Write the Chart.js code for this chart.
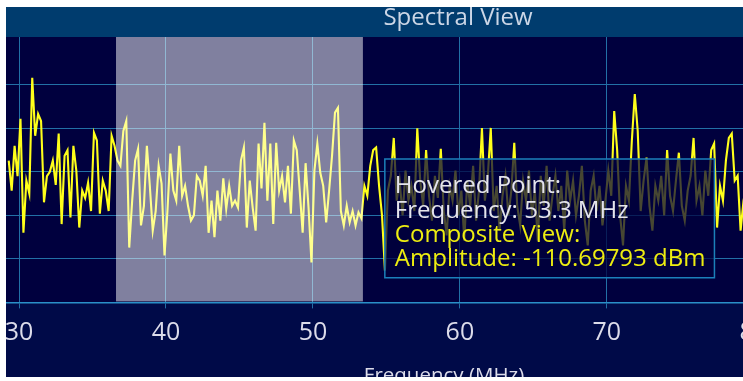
<!DOCTYPE html>
<html><head><meta charset="utf-8">
<script src="https://cdn.jsdelivr.net/npm/chart.js@4.4.1/dist/chart.umd.min.js"></script>
<style>
html,body{margin:0;padding:0;background:#fff;width:743px;height:381px;overflow:hidden;}
#wrap{position:absolute;left:6px;top:7px;width:737px;height:370px;overflow:hidden;background:#000a48;}
#c{position:absolute;left:0;top:0;}
</style></head><body>
<div id="wrap"><canvas id="c" width="1174" height="381"></canvas></div>
<script>
const titleText = 'Spectral View';
const xAxisTitle = 'Frequency (MHz)';
const freqStart = 29.3;
const freqStep = 0.2;
const ampA = [-97.4,-104.3,-94,-101,-87.8,-114,-102,-105,-78.4,-91.7,
 -86.7,-88.3,-107,-101,-100,-97.4,-103,-91.2,-112,-96.3,
 -95,-110.5,-94,-99.7,-112.8,-104.3,-106,-102.5,-109,-91,
 -92.8,-109.6,-102,-104.3,-109,-91.7,-94];
const ampB = [-97.4,-98.6,-90.6,-88.3,-117.4,-106.6,-97.4,-94.7,-112.3,-107.8,
 -94,-103.2,-113.5,-109,-98.6,-102.7,-119.2,-109,-95.8,-104.3,
 -106.6,-94,-105.5,-103.2,-107.8,-111.2,-110,-100.9,-102,-105.5,
 -98.6,-114,-106.6,-115,-104.3,-111.2,-101.5,-108.5,-103.2,-107.8,
 -106.6,-108.2,-97.4,-94.4,-112.8,-102,-108.2,-113.5,-93.5,-103.8,
 -88.7,-106.6,-93.5,-112,-93.3,-104.3,-100.9,-107,-98.6,-109.6,
 -92.8,-95,-104.3,-114,-98,-108.2,-120.8,-99.7,-93.5,-100.2,
 -103.2,-111.6,-104.3,-96.3,-86.4,-85.3,-109,-112.3,-107.8,-111.6,
 -109,-112.3,-109.3,-110.69793,-103.2];
const ampC = [-105.5,-98.6,-95,-94.4,-103.2,-110,-122.7,-104.3,-100.9,-92.2,
 -106.6,-102,-110,-99.7,-106.6,-103.2,-109,-90,-102,-107.8,
 -95,-105.5,-111.2,-100.9,-106,-94.7,-109,-114.6,-103.2,-106.6,
 -99.7,-110,-104.3,-115.8,-102,-107.8,-98.6,-111.2,-104.3,-89.9,
 -106.6,-100.9,-89.9,-109,-103.2,-113.5,-105.5,-100.9,-110,-104.3,
 -93.3,-107.8,-112.3,-102,-106.6,-99.7,-110,-104.3,-115.8,-100.9,
 -107.8,-98.6,-111.2,-105.5,-100.9,-109,-103.2,-113.5,-99.7,-106.6,
 -102,-110,-105.5,-98.6,-111.2,-116.9,-104.3,-100.9,-109,-103.2,
 -112.3,-106.6,-99.7,-105.5,-86,-95,-110,-116.9,-103.2,-106.6,
 -92.8,-82.1,-90.6,-109,-102,-96.7,-107.8,-113.5,-103.2,-106.6,
 -100.9,-110,-95,-105.5,-109,-102,-95.6,-107.8,-111.2,-104.3,
 -100.9,-92.2,-106.6,-103.2,-110,-99.7,-105.5,-95,-93.5,-112.8,
 -103.2,-106.6,-97.4,-92.2,-91.2,-102,-100.9,-113.5,-106.6,-103.2];
const xTicks = [30,40,50,60,70,80,90];
const yTicks = [-130,-120,-110,-100,-90,-80];
const shadeRange = [36.6, 53.4];
const hoverFreq = 53.3;
const tooltipTitle = ['Hovered Point:', 'Frequency: 53.3 MHz'];
const tooltipBody = ['Composite View:', 'Amplitude: -110.69793 dBm'];

const amps = ampA.concat(ampB, ampC);
const points = amps.map((v, i) => ({x: Math.round((freqStart + i * freqStep) * 10) / 10, y: v}));
const hoverIdx = points.findIndex(p => Math.abs(p.x - hoverFreq) < 1e-6);

const bgPlugin = {
  id: 'bgPlugin',
  beforeDraw(chart) {
    const {ctx, chartArea: a, width, height} = chart;
    ctx.save();
    ctx.fillStyle = '#000a48'; ctx.fillRect(0, 0, width, height);
    ctx.fillStyle = '#003c6e'; ctx.fillRect(0, 0, width, a.top);
    ctx.fillStyle = '#00003e'; ctx.fillRect(a.left, a.top, a.right - a.left, a.bottom - a.top);
    ctx.restore();
  },
  afterDatasetsDraw(chart) {
    const {ctx, chartArea: a, scales: {x}} = chart;
    const x0 = x.getPixelForValue(shadeRange[0]);
    const x1 = x.getPixelForValue(shadeRange[1]);
    ctx.save();
    ctx.fillStyle = 'rgba(255,255,255,0.5)';
    ctx.fillRect(x0, a.top, x1 - x0, a.bottom - a.top - 1);
    ctx.restore();
  }
};

function build() {
  const canvas = document.getElementById('c');
  const chart = new Chart(canvas, {
    type: 'line',
    data: {datasets: [{
      data: points, borderColor: '#ffff1a', borderWidth: 2.1, pointRadius: 0,
      pointHoverRadius: 0, tension: 0, fill: false
    }]},
    options: {
      responsive: false, animation: false, events: [],
      layout: {padding: 0},
      plugins: {
        legend: {display: false},
        title: {display: true, text: titleText, color: '#cbd6e6',
          font: {family: 'Open Sans', size: 24, weight: 'normal', lineHeight: 0.8},
          padding: {top: 1.5, bottom: 9.3}},
        tooltip: {
          enabled: true, position: 'average', xAlign: 'left', yAlign: 'center',
          caretSize: 0, caretPadding: 24, cornerRadius: 0, displayColors: false,
          backgroundColor: 'rgba(0,0,60,0.72)', borderColor: '#1b80ba', borderWidth: 1.5,
          titleColor: '#e4e4ec', bodyColor: '#eded10',
          titleFont: {family: 'Open Sans', size: 24, weight: 'normal', lineHeight: 1.017},
          bodyFont: {family: 'Open Sans', size: 24, weight: 'normal', lineHeight: 1.017},
          titleMarginBottom: 0, titleSpacing: 0, bodySpacing: 0,
          padding: {top: 15, bottom: 6, left: 10, right: 9},
          callbacks: {title: () => tooltipTitle, label: () => tooltipBody}
        }
      },
      scales: {
        x: {type: 'linear', min: 20, max: 97.84,
          afterBuildTicks: s => { s.ticks = xTicks.map(v => ({value: v})); },
          grid: {color: '#2270a6', lineWidth: 1, tickLength: 6, tickColor: '#2270a6'},
          border: {color: '#2a90c8', width: 1.5},
          ticks: {color: '#dcdcea', font: {family: 'Open Sans', size: 25}, padding: 9, maxRotation: 0, autoSkip: false},
          title: {display: true, text: xAxisTitle, color: '#dcdcea', font: {family: 'Open Sans', size: 20.5}, padding: {top: 7, bottom: 0}}
        },
        y: {min: -130, max: -69,
          afterBuildTicks: s => { s.ticks = yTicks.map(v => ({value: v})); },
          ticks: {display: false}, grid: {color: '#2270a6', drawTicks: false}, border: {display: false},
          afterFit: s => { s.width = 0; }
        },
        y2: {position: 'right', display: true, grid: {display: false}, ticks: {display: false},
          border: {display: false}, afterFit: s => { s.width = 29; }}
      }
    },
    plugins: [bgPlugin]
  });
  const px30 = chart.scales.x.getPixelForValue(30);
  canvas.style.left = (18.3 - 6 - px30) + 'px';
  const el = chart.getDatasetMeta(0).data[hoverIdx];
  chart.tooltip.setActiveElements([{datasetIndex: 0, index: hoverIdx}], {x: el.x, y: el.y});
  chart.update();
}
if (document.fonts && document.fonts.load) {
  Promise.all([document.fonts.load('24px "Open Sans"')]).then(build, build);
} else { build(); }
</script>
</body></html>
